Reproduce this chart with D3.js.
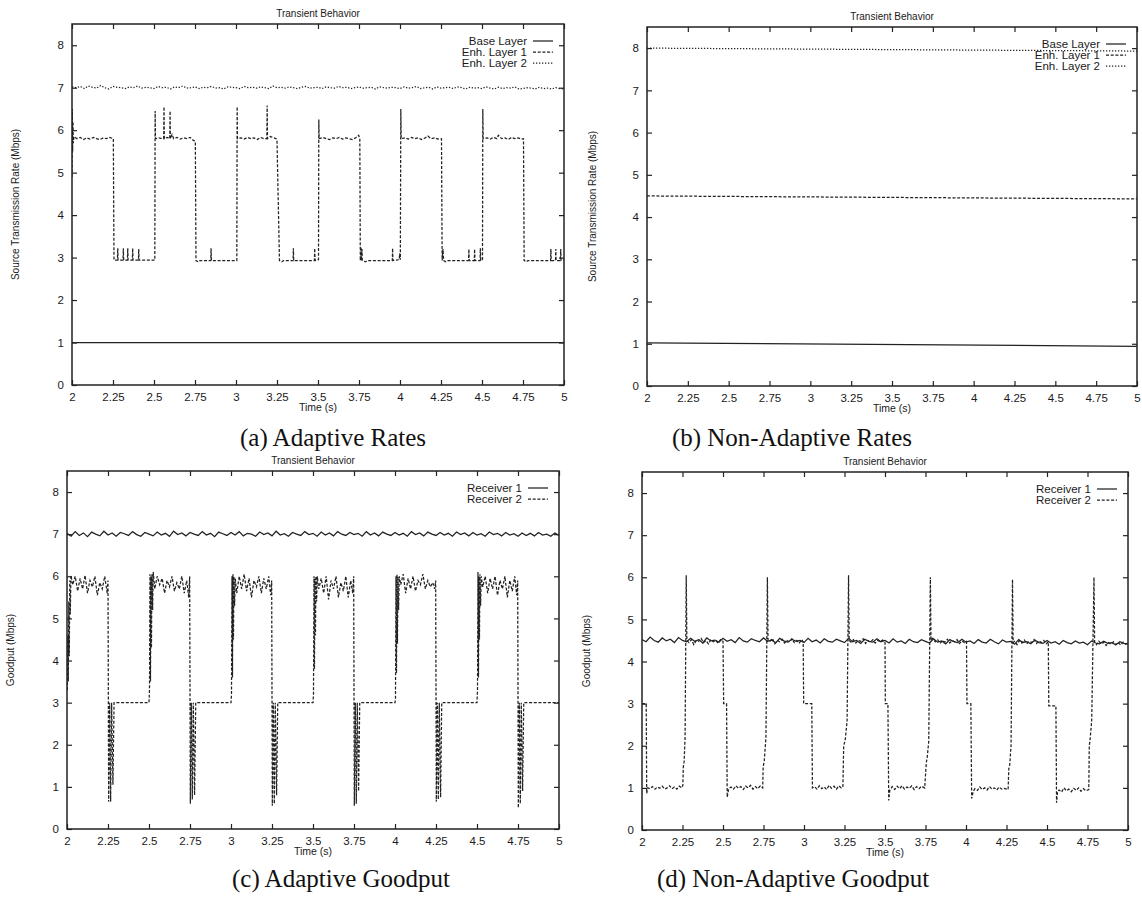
<!DOCTYPE html>
<html>
<head>
<meta charset="utf-8">
<script src="https://cdn.jsdelivr.net/npm/d3@7"></script>
<style>
body { margin: 0; background: #fff; }
svg { display: block; }
</style>
</head>
<body>
<svg id="fig" width="1142" height="899"></svg>
<script>
// tick labels
var xTicks = [2, 2.25, 2.5, 2.75, 3, 3.25, 3.5, 3.75, 4, 4.25, 4.5, 4.75, 5];
var yTicks = [0, 1, 2, 3, 4, 5, 6, 7, 8];

var gridStart = 2, gridStep = 0.025;

////////////////////////////////////////////////
// (a) adaptive rates
////////////////////////////////////////////////
var aBase = [[2, 1.0], [5, 1.0]];
var aEnh1 = [
  [2.000,4.9],[2.002,6.5],[2.004,5.5],[2.006,6.2],[2.008,5.7],[2.012,5.85],
  [2.03,5.8],[2.05,5.83],[2.07,5.78],[2.09,5.82],[2.11,5.79],[2.13,5.83],[2.15,5.8],[2.17,5.78],[2.19,5.82],[2.21,5.8],[2.23,5.83],[2.252,5.8],
  [2.256,2.94],[2.277,2.94],[2.279,3.22],[2.281,2.94],[2.311,2.94],[2.313,3.22],[2.315,2.94],[2.338,2.94],[2.34,3.22],[2.342,2.94],
  [2.368,2.94],[2.37,3.22],[2.372,2.94],[2.405,2.94],[2.407,3.2],[2.409,2.94],[2.505,2.94],
  [2.507,6.45],[2.509,5.8],[2.53,5.82],[2.55,5.8],[2.559,5.8],[2.561,6.55],[2.563,5.8],[2.58,5.83],[2.596,5.8],[2.598,6.45],[2.6,5.8],
  [2.61,5.9],[2.62,5.8],[2.64,5.83],[2.66,5.79],[2.68,5.82],[2.70,5.8],[2.72,5.83],[2.74,5.76],[2.752,5.74],
  [2.756,2.93],[2.77,2.9],[2.78,2.93],[2.846,2.93],[2.848,3.22],[2.85,2.93],[3.005,2.93],
  [3.007,6.55],[3.009,5.8],[3.03,5.82],[3.05,5.79],[3.07,5.83],[3.09,5.8],[3.11,5.82],[3.13,5.78],[3.15,5.83],[3.17,5.8],[3.188,5.8],
  [3.19,6.58],[3.192,5.8],[3.21,5.85],[3.23,5.82],[3.245,5.8],[3.25,5.75],
  [3.265,2.93],[3.28,2.9],[3.29,2.93],[3.348,2.93],[3.35,3.22],[3.352,2.93],[3.478,2.93],[3.48,3.22],[3.482,2.93],[3.503,2.95],
  [3.505,6.25],[3.507,5.8],[3.53,5.83],[3.55,5.8],[3.57,5.78],[3.59,5.82],[3.61,5.8],[3.63,5.83],[3.65,5.79],[3.67,5.82],[3.69,5.8],
  [3.71,5.78],[3.73,5.82],[3.748,5.88],[3.755,5.8],
  [3.758,2.93],[3.762,3.25],[3.764,2.93],[3.768,3.2],[3.77,2.93],[3.79,2.9],[3.80,2.93],[3.953,2.93],[3.955,3.22],[3.957,2.93],
  [3.995,2.95],[3.998,3.1],[4.002,2.95],
  [4.005,6.5],[4.007,5.8],[4.03,5.82],[4.05,5.79],[4.07,5.83],[4.09,5.8],[4.11,5.82],[4.13,5.78],[4.15,5.81],[4.17,5.86],[4.19,5.8],
  [4.21,5.82],[4.23,5.79],[4.253,5.8],
  [4.257,2.93],[4.262,3.2],[4.266,2.93],[4.28,2.9],[4.29,2.93],[4.418,2.93],[4.42,3.2],[4.422,2.93],[4.453,2.93],[4.455,3.2],[4.457,2.93],
  [4.488,2.93],[4.49,3.22],[4.492,2.93],[4.503,2.95],
  [4.505,6.5],[4.507,5.8],[4.53,5.82],[4.55,5.79],[4.57,5.83],[4.59,5.8],[4.60,5.88],[4.62,5.8],[4.64,5.82],[4.66,5.78],[4.68,5.83],
  [4.70,5.8],[4.72,5.82],[4.74,5.79],[4.753,5.8],
  [4.757,2.93],[4.77,2.9],[4.78,2.93],[4.918,2.93],[4.92,3.2],[4.922,2.93],[4.948,2.93],[4.95,3.2],[4.952,2.93],[4.978,2.93],
  [4.98,3.2],[4.982,2.93],[5.0,2.95]
];
var aEnh2Vals = [
  7.02,7.00,7.03,6.98,7.04,7.01,6.99,7.05,7.00,6.97,7.03,7.01,7.00,6.98,7.02,7.00,7.04,6.99,7.01,7.00,
  6.98,7.03,7.00,7.01,6.97,7.02,7.00,7.04,6.99,7.00,7.02,6.98,7.01,7.00,7.03,6.99,7.00,6.97,7.02,7.01,
  7.00,6.98,7.03,7.00,7.01,6.99,7.02,7.00,6.98,7.04,7.00,7.01,6.99,7.02,7.00,6.98,7.01,7.03,6.99,7.00,
  7.01,6.98,7.02,7.00,6.99,7.03,7.00,7.01,6.98,7.00,7.02,6.99,7.00,7.01,6.97,7.02,7.00,6.99,7.01,7.00,
  6.98,7.02,6.99,7.00,7.03,6.98,7.00,7.01,6.97,7.02,6.99,7.00,7.01,6.98,7.02,7.00,6.97,7.01,6.99,7.00,
  6.98,7.02,6.99,6.97,7.01,6.98,7.00,6.99,7.02,6.97,6.98,7.00,6.99,6.97,7.01,6.98,6.99,6.97,7.00,6.98,6.97
];

////////////////////////////////////////////////
// (b) non-adaptive rates
////////////////////////////////////////////////
var bBase = [[2, 1.02], [5, 0.94]];
var bEnh1 = [[2, 4.50], [5, 4.43]];
var bEnh2 = [[2, 8.00], [5, 7.93]];

////////////////////////////////////////////////
// (c) adaptive goodput
////////////////////////////////////////////////
var cRecv1Vals = [
  7.02,6.95,7.06,6.97,7.03,6.94,7.05,7.00,6.96,7.07,6.98,7.03,6.95,7.04,7.01,6.97,7.06,6.99,6.95,7.04,
  7.00,6.96,7.05,6.98,7.02,6.95,7.07,6.99,7.03,6.96,7.04,7.00,6.97,7.06,6.98,7.02,6.94,7.05,7.01,6.97,
  7.04,6.98,7.06,6.96,7.02,7.00,6.95,7.05,6.99,7.03,6.96,7.07,6.98,7.01,6.95,7.04,7.00,6.97,7.06,6.99,
  7.02,6.95,7.05,6.98,7.03,6.96,7.06,7.00,6.97,7.04,6.99,7.02,6.95,7.06,6.98,7.03,6.96,7.05,7.00,6.97,
  7.04,6.98,7.02,6.95,7.06,6.99,7.03,6.96,7.05,7.00,6.97,7.04,6.98,7.02,6.95,7.05,6.99,7.03,6.96,7.04,
  6.98,7.01,6.95,7.05,6.99,7.02,6.96,7.04,6.98,7.01,6.95,7.03,6.97,7.02,6.96,7.04,6.98,7.00,6.95,7.03,6.97
];
var cRecv2 = [
  [2.002,3.3],[2.005,4.6],[2.008,3.5],[2.011,5.4],[2.014,4.1],[2.017,5.9],[2.020,5.1],[2.024,6.02],
  [2.035,5.8],[2.05,6.0],[2.065,5.65],[2.08,5.95],[2.095,5.7],[2.11,6.02],[2.125,5.6],[2.14,5.9],[2.155,5.75],[2.17,6.0],
  [2.185,5.55],[2.20,5.85],[2.215,5.7],[2.23,6.0],[2.245,5.6],[2.25,5.9],
  [2.254,0.65],[2.26,3.0],[2.266,0.65],[2.272,3.0],[2.28,1.05],[2.287,3.0],[2.5,3.0],
  [2.503,3.3],[2.506,6.05],[2.509,3.5],[2.512,6.0],[2.515,4.3],[2.518,6.05],[2.522,5.2],[2.526,6.1],
  [2.535,5.7],[2.55,6.0],[2.565,5.8],[2.58,5.95],[2.595,5.6],[2.61,5.9],[2.625,5.75],[2.64,6.0],[2.655,5.65],[2.67,5.85],
  [2.685,5.7],[2.70,6.0],[2.715,5.6],[2.73,5.9],[2.742,5.5],[2.748,6.0],
  [2.752,0.6],[2.758,3.0],[2.764,0.7],[2.77,3.0],[2.778,0.8],[2.785,3.0],[3.0,3.0],
  [3.003,3.2],[3.006,6.0],[3.009,3.6],[3.012,6.05],[3.015,4.5],[3.018,6.0],[3.022,5.3],[3.026,5.95],
  [3.035,5.6],[3.05,6.0],[3.065,5.7],[3.08,6.05],[3.095,5.65],[3.11,5.95],[3.125,5.5],[3.14,5.9],[3.155,5.75],[3.17,6.0],
  [3.185,5.6],[3.20,5.95],[3.215,5.7],[3.23,6.0],[3.242,5.55],[3.248,5.9],
  [3.252,0.55],[3.258,3.0],[3.264,0.6],[3.27,3.0],[3.278,0.8],[3.285,3.0],[3.5,3.0],
  [3.503,3.2],[3.506,6.0],[3.509,3.8],[3.512,5.95],[3.515,4.6],[3.518,6.0],[3.522,5.4],[3.526,6.0],
  [3.535,5.7],[3.55,5.95],[3.565,5.6],[3.58,6.0],[3.595,5.45],[3.61,5.9],[3.625,5.7],[3.64,6.0],[3.655,5.5],[3.67,5.85],
  [3.685,5.65],[3.70,6.0],[3.715,5.5],[3.73,5.9],[3.742,5.6],[3.748,6.0],
  [3.752,0.55],[3.758,3.0],[3.764,0.6],[3.77,3.0],[3.778,0.9],[3.785,3.0],[4.0,3.0],
  [4.003,3.1],[4.006,6.0],[4.009,3.7],[4.012,6.05],[4.015,4.4],[4.018,6.0],[4.022,5.2],[4.026,6.0],
  [4.035,5.8],[4.05,6.05],[4.065,5.6],[4.08,5.95],[4.095,5.7],[4.11,6.0],[4.125,5.65],[4.14,5.9],[4.155,5.8],[4.17,6.05],
  [4.185,5.7],[4.20,5.9],[4.215,5.75],[4.23,5.85],[4.242,5.7],[4.248,5.9],
  [4.252,0.65],[4.258,3.0],[4.264,0.7],[4.27,3.0],[4.278,0.75],[4.285,3.0],[4.5,3.0],
  [4.503,3.3],[4.506,6.1],[4.509,3.6],[4.512,6.0],[4.515,4.5],[4.518,6.05],[4.522,5.3],[4.526,6.0],
  [4.535,5.75],[4.55,6.0],[4.565,5.6],[4.58,5.95],[4.595,5.7],[4.61,6.0],[4.625,5.55],[4.64,5.9],[4.655,5.7],[4.67,6.0],
  [4.685,5.5],[4.70,5.9],[4.715,5.65],[4.73,6.0],[4.742,5.55],[4.748,5.9],
  [4.752,0.5],[4.758,3.0],[4.764,0.6],[4.77,3.0],[4.778,0.9],[4.785,3.0],[5.0,3.0]
];

////////////////////////////////////////////////
// (d) non-adaptive goodput
////////////////////////////////////////////////
var dRecv1Vals = [
  4.52,4.47,4.58,4.50,4.46,4.56,4.49,4.53,4.45,4.57,4.50,4.47,4.55,4.48,4.52,4.44,4.56,4.49,4.51,4.46,
  4.55,4.48,4.52,4.45,4.57,4.49,4.46,4.54,4.50,4.47,4.56,4.48,4.51,4.44,4.55,4.49,4.46,4.53,4.48,4.50,
  4.45,4.55,4.47,4.51,4.44,4.54,4.48,4.46,4.53,4.49,4.45,4.55,4.47,4.50,4.43,4.53,4.48,4.46,4.54,4.47,
  4.50,4.44,4.54,4.46,4.49,4.43,4.53,4.47,4.45,4.52,4.48,4.44,4.54,4.46,4.49,4.42,4.52,4.47,4.45,4.53,
  4.46,4.49,4.43,4.52,4.46,4.44,4.53,4.47,4.42,4.51,4.46,4.48,4.41,4.52,4.45,4.47,4.42,4.51,4.45,4.43,
  4.50,4.44,4.47,4.41,4.50,4.45,4.42,4.49,4.44,4.46,4.40,4.49,4.44,4.42,4.48,4.43,4.45,4.40,4.47,4.43,4.42
];
var dRecv2 = [
  [2.0,3.0],[2.026,3.0],[2.029,0.87],[2.035,1.0],[2.05,0.98],[2.065,1.03],[2.08,0.97],[2.095,1.02],[2.11,0.99],[2.125,1.04],
  [2.14,0.97],[2.155,1.0],[2.17,1.05],[2.185,0.98],[2.2,1.02],[2.215,0.97],[2.23,1.04],[2.245,1.0],[2.252,1.05],
  [2.255,1.5],[2.26,1.62],[2.266,2.2],[2.273,6.05],[2.277,4.5],
  [2.29,4.45],[2.305,4.52],[2.32,4.4],[2.335,4.5],[2.35,4.48],[2.365,4.55],[2.38,4.45],[2.395,4.5],[2.41,4.42],[2.425,4.52],
  [2.44,4.47],[2.455,4.5],[2.47,4.44],[2.485,4.52],[2.5,4.48],
  [2.504,3.0],[2.522,3.0],[2.526,0.78],[2.535,0.98],
  [2.55,1.02],[2.565,0.97],[2.58,1.05],[2.595,0.99],[2.61,1.03],[2.625,0.96],[2.64,1.04],[2.655,1.0],[2.67,1.06],[2.685,0.97],
  [2.70,1.03],[2.715,0.98],[2.73,1.05],[2.745,1.0],
  [2.748,1.5],[2.755,1.65],[2.765,2.2],[2.774,6.0],[2.778,4.5],
  [2.79,4.48],[2.805,4.55],[2.82,4.42],[2.835,4.5],[2.85,4.47],[2.865,4.53],[2.88,4.44],[2.895,4.5],[2.91,4.46],[2.925,4.54],
  [2.94,4.45],[2.955,4.5],[2.97,4.43],[2.985,4.52],[2.995,4.47],
  [2.998,3.0],[3.048,3.0],[3.052,1.0],
  [3.065,1.03],[3.08,0.97],[3.095,1.05],[3.11,0.98],[3.125,1.02],[3.14,0.96],[3.155,1.06],[3.17,0.99],[3.185,1.04],[3.2,0.97],
  [3.215,1.05],[3.23,1.0],[3.24,1.02],
  [3.245,2.0],[3.255,2.15],[3.266,2.6],[3.275,6.05],[3.279,4.5],
  [3.29,4.46],[3.305,4.52],[3.32,4.44],[3.335,4.5],[3.35,4.48],[3.365,4.54],[3.38,4.43],[3.395,4.5],[3.41,4.46],[3.425,4.52],
  [3.44,4.44],[3.455,4.5],[3.47,4.47],[3.485,4.51],[3.5,4.47],
  [3.502,3.0],[3.518,3.0],[3.523,0.7],[3.53,0.95],
  [3.545,1.03],[3.56,0.96],[3.575,1.04],[3.59,0.98],[3.605,1.05],[3.62,0.97],[3.635,1.02],[3.65,0.99],[3.665,1.05],[3.68,0.96],
  [3.695,1.03],[3.71,0.98],[3.725,1.04],[3.745,1.0],
  [3.755,1.6],[3.76,1.7],[3.77,2.1],[3.78,6.0],[3.784,4.5],
  [3.795,4.55],[3.81,4.47],[3.825,4.52],[3.84,4.43],[3.855,4.5],[3.87,4.46],[3.885,4.53],[3.9,4.44],[3.915,4.5],[3.93,4.47],
  [3.945,4.52],[3.96,4.43],[3.975,4.49],[3.99,4.45],[4.003,4.48],
  [4.006,3.0],[4.03,3.0],[4.035,0.75],[4.045,0.92],
  [4.055,0.98],[4.07,0.94],[4.085,1.02],[4.10,0.96],[4.115,1.0],[4.13,0.95],[4.145,1.03],[4.16,0.97],[4.175,1.0],[4.19,0.95],
  [4.205,1.02],[4.22,0.97],[4.235,0.99],[4.26,0.96],
  [4.264,1.45],[4.27,1.55],[4.278,2.0],[4.287,5.95],[4.291,4.45],
  [4.30,4.48],[4.315,4.4],[4.33,4.5],[4.345,4.44],[4.36,4.51],[4.375,4.42],[4.39,4.48],[4.405,4.45],[4.42,4.52],[4.435,4.43],
  [4.45,4.49],[4.465,4.45],[4.48,4.5],[4.495,4.42],[4.508,4.47],
  [4.511,2.95],[4.555,2.95],[4.559,0.65],[4.565,0.92],
  [4.575,0.95],[4.59,0.9],[4.605,1.0],[4.62,0.93],[4.635,0.97],[4.65,0.91],[4.665,0.99],[4.68,0.94],[4.695,1.0],[4.71,0.92],
  [4.725,0.98],[4.74,0.93],[4.758,0.96],
  [4.761,2.0],[4.766,2.15],[4.776,2.6],[4.79,6.0],[4.794,4.45],
  [4.805,4.4],[4.82,4.48],[4.835,4.42],[4.85,4.46],[4.865,4.38],[4.88,4.45],[4.895,4.41],[4.91,4.47],[4.925,4.4],[4.94,4.45],
  [4.955,4.39],[4.97,4.46],[4.985,4.41],[5.0,4.44]
];

/////////////////////////////////////////////////////////////

var INK = "#222";
var DASH = { solid: null, dashed: "3,1.7", dotted: "1.3,1.7" };

// noisy trace values -> [t, v] on the sampling grid
function onGrid(vals) {
    return vals.map(function (v, i) { return [gridStart + i * gridStep, v]; });
}

var panels = [
    {
        key: "a", box: {l: 72, r: 564, t: 24, b: 385},
        ylab: "Source Transmission Rate (Mbps)", ylabX: 15,
        caption: "(a) Adaptive Rates", capX: 333, capY: 446,
        series: [
            {name: "Base Layer", data: aBase, dash: "solid"},
            {name: "Enh. Layer 1", data: aEnh1, dash: "dashed"},
            {name: "Enh. Layer 2", data: onGrid(aEnh2Vals), dash: "dotted"}
        ]
    },
    {
        key: "b", box: {l: 647, r: 1137, t: 27, b: 386},
        ylab: "Source Transmission Rate (Mbps)", ylabX: 592,
        caption: "(b) Non-Adaptive Rates", capX: 792, capY: 446,
        series: [
            {name: "Base Layer", data: bBase, dash: "solid"},
            {name: "Enh. Layer 1", data: bEnh1, dash: "dashed"},
            {name: "Enh. Layer 2", data: bEnh2, dash: "dotted"}
        ]
    },
    {
        key: "c", box: {l: 67, r: 559, t: 471, b: 829},
        ylab: "Goodput (Mbps)", ylabX: 10,
        caption: "(c) Adaptive Goodput", capX: 341, capY: 887,
        series: [
            {name: "Receiver 1", data: onGrid(cRecv1Vals), dash: "solid"},
            {name: "Receiver 2", data: cRecv2, dash: "dashed"}
        ]
    },
    {
        key: "d", box: {l: 642, r: 1128, t: 472, b: 830},
        ylab: "Goodput (Mbps)", ylabX: 586,
        caption: "(d) Non-Adaptive Goodput", capX: 793, capY: 887,
        series: [
            {name: "Receiver 1", data: onGrid(dRecv1Vals), dash: "solid"},
            {name: "Receiver 2", data: dRecv2, dash: "dashed"}
        ]
    }
];

var svg = d3.select("#fig");
svg.append("rect").attr("width", 1142).attr("height", 899).attr("fill", "#fff");

var sansFont = "'Liberation Sans', Arial, Helvetica, sans-serif";
var serifFont = "'Liberation Serif', 'Times New Roman', serif";

function drawPanel(p) {
    var b = p.box;
    var x = d3.scaleLinear().domain([2, 5]).range([b.l, b.r]);
    var y = d3.scaleLinear().domain([0, 8.5]).range([b.b, b.t]);
    var g = svg.append("g").attr("class", "panel-" + p.key);

    g.append("clipPath").attr("id", "clip-" + p.key)
        .append("rect")
        .attr("x", b.l).attr("y", b.t)
        .attr("width", b.r - b.l).attr("height", b.b - b.t);

    // gnuplot style: ticks inward on all four sides
    var bottom = g.append("g").attr("transform", "translate(0," + b.b + ")")
        .call(d3.axisBottom(x).tickValues(xTicks).tickFormat(function (d) { return String(d); })
            .tickSizeInner(-5).tickSizeOuter(0).tickPadding(8));
    var top = g.append("g").attr("transform", "translate(0," + b.t + ")")
        .call(d3.axisTop(x).tickValues(xTicks).tickFormat("").tickSizeInner(-5).tickSizeOuter(0));
    var left = g.append("g").attr("transform", "translate(" + b.l + ",0)")
        .call(d3.axisLeft(y).tickValues(yTicks).tickFormat(d3.format("d"))
            .tickSizeInner(-5).tickSizeOuter(0).tickPadding(8));
    var right = g.append("g").attr("transform", "translate(" + b.r + ",0)")
        .call(d3.axisRight(y).tickValues(yTicks).tickFormat("").tickSizeInner(-5).tickSizeOuter(0));

    [bottom, top, left, right].forEach(function (ax) {
        ax.select(".domain").remove();
        ax.selectAll("line").attr("stroke", INK).attr("stroke-width", 1.2);
        ax.selectAll("text").attr("fill", "#1a1a1a").style("font-family", sansFont).style("font-size", "11.5px");
    });

    // the traces
    var line = d3.line().x(function (d) { return x(d[0]); }).y(function (d) { return y(d[1]); });
    var traces = g.append("g").attr("clip-path", "url(#clip-" + p.key + ")");
    p.series.slice().reverse().forEach(function (s) {
        traces.append("path")
            .datum(s.data)
            .attr("d", line)
            .attr("fill", "none")
            .attr("stroke", INK)
            .attr("stroke-width", 1.25)
            .attr("stroke-dasharray", DASH[s.dash]);
    });

    // frame
    g.append("rect")
        .attr("x", b.l).attr("y", b.t)
        .attr("width", b.r - b.l).attr("height", b.b - b.t)
        .attr("fill", "none").attr("stroke", INK).attr("stroke-width", 1.5);

    // legend, top right inside the frame
    var leg = g.append("g");
    p.series.forEach(function (s, i) {
        var ly = b.t + 20.5 + i * 11;
        leg.append("text")
            .attr("x", b.r - 37).attr("y", ly)
            .attr("text-anchor", "end")
            .style("font-family", sansFont).style("font-size", "11.5px")
            .attr("fill", "#1a1a1a")
            .text(s.name);
        leg.append("line")
            .attr("x1", b.r - 31).attr("x2", b.r - 11)
            .attr("y1", ly - 3.5).attr("y2", ly - 3.5)
            .attr("stroke", INK).attr("stroke-width", 1.25)
            .attr("stroke-dasharray", DASH[s.dash]);
    });

    // title and axis names
    var cx = (b.l + b.r) / 2;
    g.append("text")
        .attr("x", cx).attr("y", b.t - 7)
        .attr("text-anchor", "middle")
        .style("font-family", sansFont).style("font-size", "10px")
        .attr("fill", "#1a1a1a")
        .text("Transient Behavior");
    g.append("text")
        .attr("x", cx).attr("y", b.b + 26)
        .attr("text-anchor", "middle")
        .style("font-family", sansFont).style("font-size", "10.5px")
        .attr("fill", "#1a1a1a")
        .text("Time (s)");
    g.append("text")
        .attr("transform", "translate(" + (p.ylabX + 4) + "," + ((b.t + b.b) / 2) + ") rotate(-90)")
        .attr("text-anchor", "middle")
        .style("font-family", sansFont).style("font-size", "10px")
        .attr("fill", "#1a1a1a")
        .text(p.ylab);

    // caption under the plot
    g.append("text")
        .attr("x", p.capX).attr("y", p.capY)
        .attr("text-anchor", "middle")
        .style("font-family", serifFont).style("font-size", "25px")
        .attr("fill", "#111")
        .text(p.caption);
}

panels.forEach(drawPanel);
</script>
</body>
</html>
